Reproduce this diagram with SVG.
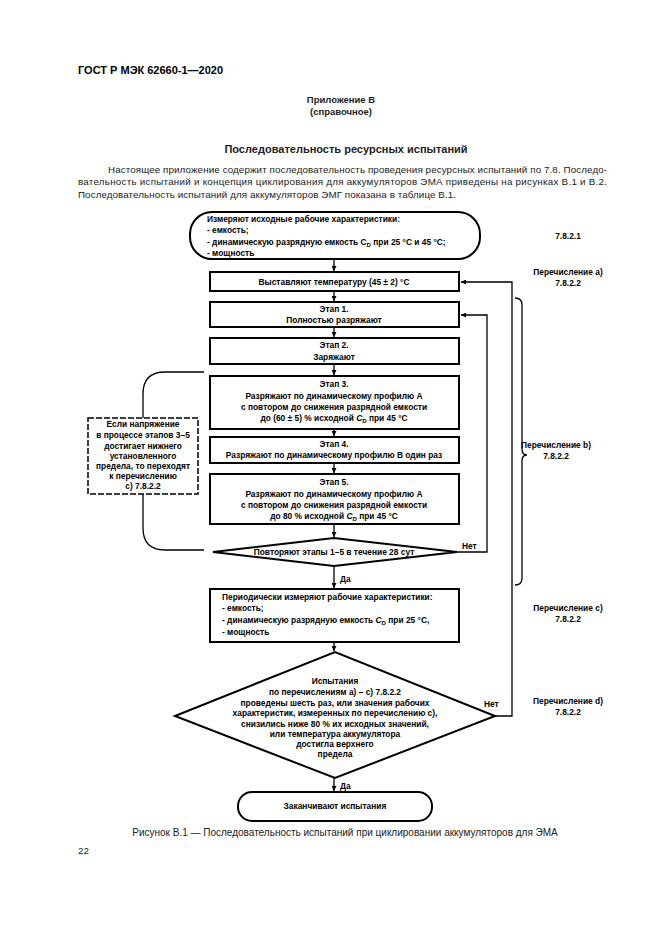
<svg xmlns="http://www.w3.org/2000/svg" width="661" height="935" viewBox="0 0 661 935">
<style>
.pg{font-family:"Liberation Sans",Arial,sans-serif;fill:#222}
.b{font-weight:bold}
.t{font-family:"Liberation Sans",Arial,sans-serif;font-weight:bold;font-size:8.4px;fill:#000}
.c{text-anchor:middle}
.box{fill:#fff;stroke:#000;stroke-width:2}
.dash{fill:#fff;stroke:#000;stroke-width:1.5;stroke-dasharray:6 2}
.ln{fill:none;stroke:#000;stroke-width:1.3}
</style>
<defs>
<marker id="ah" viewBox="0 0 6 6" refX="6" refY="3" markerWidth="5" markerHeight="5" markerUnits="userSpaceOnUse" orient="auto">
<path d="M0,0 L6,3 L0,6 Z" fill="#000"/>
</marker>
</defs>
<rect width="661" height="935" fill="#fff"/>
<g id="page-text" class="pg">
<text x="78" y="74" class="b" font-size="11" fill="#000">ГОСТ Р МЭК 62660-1—2020</text>
<text x="341" y="103" class="b c" font-size="9.5">Приложение В</text>
<text x="341" y="115" class="b c" font-size="9.5">(справочное)</text>
<text x="346" y="153" class="b c" font-size="11">Последовательность ресурсных испытаний</text>
<text x="108" y="173" font-size="9.8" textLength="499" lengthAdjust="spacing">Настоящее приложение содержит последовательность проведения ресурсных испытаний по 7.8. Последо-</text>
<text x="78" y="185" font-size="9.8" textLength="529" lengthAdjust="spacing">вательность испытаний и концепция циклирования для аккумуляторов ЭМА приведены на рисунках В.1 и В.2.</text>
<text x="78" y="198" font-size="9.8" textLength="378" lengthAdjust="spacing">Последовательность испытаний для аккумуляторов ЭМГ показана в таблице В.1.</text>
<text x="345" y="836" class="c" font-size="10">Рисунок В.1 — Последовательность испытаний при циклировании аккумуляторов для ЭМА</text>
<text x="78" y="854" font-size="9.8">22</text>
</g>
<g id="connectors">
<path class="ln" d="M334 259 V271" marker-end="url(#ah)"/>
<path class="ln" d="M334 291 V301" marker-end="url(#ah)"/>
<path class="ln" d="M334 327 V337" marker-end="url(#ah)"/>
<path class="ln" d="M334 364 V375" marker-end="url(#ah)"/>
<path class="ln" d="M334 429 V436" marker-end="url(#ah)"/>
<path class="ln" d="M334 463 V473" marker-end="url(#ah)"/>
<path class="ln" d="M334 524 V537" marker-end="url(#ah)"/>
<path class="ln" d="M334 566 V588" marker-end="url(#ah)"/>
<path class="ln" d="M334 642 V651" marker-end="url(#ah)"/>
<path class="ln" d="M334 778 V791" marker-end="url(#ah)"/>
<path class="ln" d="M457 552 H487 V315 H461" marker-end="url(#ah)"/>
<path class="ln" d="M495 716 H512 V282 H461" marker-end="url(#ah)"/>
<path class="ln" d="M204 372 H165 Q143 372 143 394 V418"/>
<path class="ln" d="M143 494 V528 Q143 550 165 550 H204"/>
<path class="ln" d="M515 298 Q522 298 522 305 V449 Q522 455 527 455 Q522 455 522 461 V578 Q522 585 515 585"/>
<text x="462" y="549" class="t">Нет</text>
<text x="484" y="707" class="t">Нет</text>
<text x="340" y="582" class="t">Да</text>
<text x="340" y="789" class="t">Да</text>
</g>
<g id="start">
<rect class="box" x="190" y="212" width="290" height="47" rx="22" ry="22"/>
<text class="t" x="207" y="222">Измеряют исходные рабочие характеристики:</text>
<text class="t" x="207" y="233">- емкость;</text>
<text class="t" x="207" y="245">- динамическую разрядную емкость C<tspan font-size="6" dy="2">D</tspan><tspan dy="-2"> при 25 °C и 45 °C;</tspan></text>
<text class="t" x="207" y="256">- мощность</text>
</g>
<g id="set-temp">
<rect class="box" x="210" y="272" width="249" height="19"/>
<text class="t c" x="334" y="285">Выставляют температуру (45 ± 2) °C</text>
</g>
<g id="stage1">
<rect class="box" x="210" y="302" width="249" height="25"/>
<text class="t c" x="334" y="312">Этап 1.</text>
<text class="t c" x="334" y="323">Полностью разряжают</text>
</g>
<g id="stage2">
<rect class="box" x="210" y="338" width="249" height="26"/>
<text class="t c" x="334" y="348">Этап 2.</text>
<text class="t c" x="334" y="360">Заряжают</text>
</g>
<g id="stage3">
<rect class="box" x="210" y="376" width="249" height="53"/>
<text class="t c" x="334" y="387">Этап 3.</text>
<text class="t c" x="334" y="399">Разряжают по динамическому профилю А</text>
<text class="t c" x="334" y="410">с повтором до снижения разрядной емкости</text>
<text class="t c" x="334" y="421">до (60 ± 5) % исходной <tspan font-style="italic">C</tspan><tspan font-size="6" dy="2">D</tspan><tspan dy="-2"> при 45 °C</tspan></text>
</g>
<g id="stage4">
<rect class="box" x="210" y="437" width="249" height="26"/>
<text class="t c" x="334" y="447">Этап 4.</text>
<text class="t c" x="334" y="458">Разряжают по динамическому профилю В один раз</text>
</g>
<g id="stage5">
<rect class="box" x="210" y="474" width="249" height="50"/>
<text class="t c" x="334" y="485">Этап 5.</text>
<text class="t c" x="334" y="497">Разряжают по динамическому профилю А</text>
<text class="t c" x="334" y="508">с повтором до снижения разрядной емкости</text>
<text class="t c" x="334" y="519">до 80 % исходной <tspan font-style="italic">C</tspan><tspan font-size="6" dy="2">D</tspan><tspan dy="-2"> при 45 °C</tspan></text>
</g>
<g id="repeat-decision">
<polygon class="box" points="213,552 334,538 457,552 334,566"/>
<text class="t c" x="334" y="555">Повторяют этапы 1–5 в течение 28 сут</text>
</g>
<g id="voltage-note">
<rect class="dash" x="88" y="418" width="110" height="76"/>
<text class="t c" x="143" y="427">Если напряжение</text>
<text class="t c" x="143" y="438">в процессе этапов 3–5</text>
<text class="t c" x="143" y="449">достигает нижнего</text>
<text class="t c" x="143" y="459">установленного</text>
<text class="t c" x="143" y="469">предела, то переходят</text>
<text class="t c" x="143" y="479">к перечислению</text>
<text class="t c" x="143" y="489">с) 7.8.2.2</text>
</g>
<g id="periodic">
<rect class="box" x="210" y="589" width="249" height="53"/>
<text class="t" x="222" y="600">Периодически измеряют рабочие характеристики:</text>
<text class="t" x="222" y="611">- емкость;</text>
<text class="t" x="222" y="623">- динамическую разрядную емкость <tspan font-style="italic">C</tspan><tspan font-size="6" dy="2">D</tspan><tspan dy="-2"> при 25 °C,</tspan></text>
<text class="t" x="222" y="635">- мощность</text>
</g>
<g id="final-decision">
<polygon class="box" points="175,716 335,652 495,716 335,778"/>
<text class="t c" x="335" y="684">Испытания</text>
<text class="t c" x="335" y="695">по перечислениям а) – с) 7.8.2.2</text>
<text class="t c" x="335" y="706">проведены шесть раз, или значения рабочих</text>
<text class="t c" x="335" y="716">характеристик, измеренных по перечислению с),</text>
<text class="t c" x="335" y="727">снизились ниже 80 % их исходных значений,</text>
<text class="t c" x="335" y="737">или температура аккумулятора</text>
<text class="t c" x="335" y="747">достигла верхнего</text>
<text class="t c" x="335" y="757">предела</text>
</g>
<g id="end">
<rect class="box" x="238" y="792" width="194" height="29" rx="14" ry="14"/>
<text class="t c" x="335" y="809">Заканчивают испытания</text>
</g>
<g id="clause-labels">
<text class="t c" x="568" y="239">7.8.2.1</text>
<text class="t c" x="568" y="275">Перечисление a)</text>
<text class="t c" x="568" y="286">7.8.2.2</text>
<text class="t c" x="556" y="448">Перечисление b)</text>
<text class="t c" x="556" y="459">7.8.2.2</text>
<text class="t c" x="568" y="611">Перечисление c)</text>
<text class="t c" x="568" y="622">7.8.2.2</text>
<text class="t c" x="568" y="704">Перечисление d)</text>
<text class="t c" x="568" y="715">7.8.2.2</text>
</g>
</svg>
